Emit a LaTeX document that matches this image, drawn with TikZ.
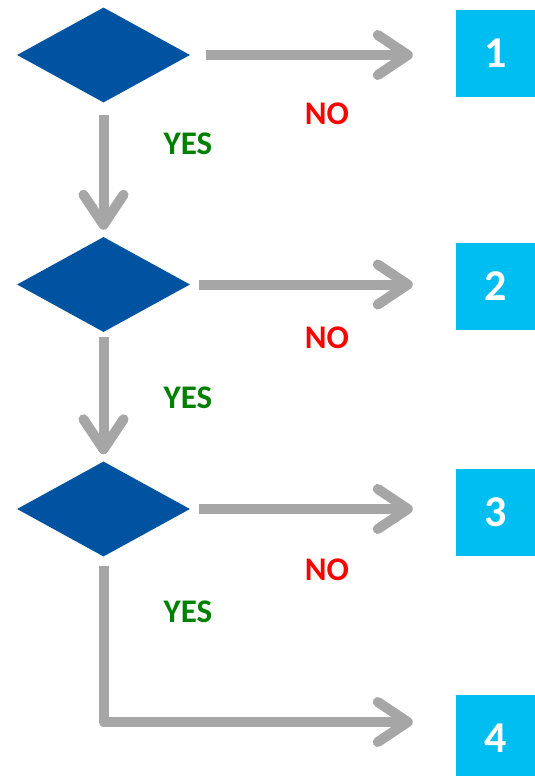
\documentclass[tikz,border=0pt]{standalone}
\usepackage{fontspec}
\setmainfont{Carlito}
\usetikzlibrary{shapes.geometric}
\usetikzlibrary{arrows.meta}
\definecolor{decblue}{RGB}{0,83,160}
\definecolor{outcyan}{RGB}{0,191,240}
\definecolor{flowgray}{RGB}{166,166,166}
\definecolor{yesgreen}{RGB}{0,128,0}
\tikzset{
  decision/.style={diamond, fill=decblue, inner sep=0pt, minimum width=173pt, minimum height=95pt},
  outcome/.style={rectangle, fill=outcyan, inner sep=0pt, minimum width=79pt, minimum height=87pt,
    text=white, font=\bfseries\fontsize{44}{50}\selectfont},
  flow/.style={flowgray, line width=10pt, line join=round, -{Straight Barb[length=30pt, width=40pt, round]}},
  yeslbl/.style={text=yesgreen, font=\bfseries\fontsize{33}{38}\selectfont},
  nolbl/.style={text=red, font=\bfseries\fontsize{33}{38}\selectfont}
}
\begin{document}
\begin{tikzpicture}[x=1pt, y=-1pt]
\useasboundingbox (0,0) rectangle (535,776);
\clip (0,0) rectangle (535,776);

\node [decision] (d1) at (103.5,55) {};
\node [decision] (d2) at (103.5,284.5) {};
\node [decision] (d3) at (103.5,509) {};

\node [outcome] (b1) at (495.5,53.5) {1};
\node [outcome] (b2) at (495.5,286.5) {2};
\node [outcome] (b3) at (495.5,512.5) {3};
\node [outcome] (b4) at (495.5,738.5) {4};

\coordinate (c4) at (103.5,722);

\draw [flow] ([xshift=16pt]d1.east) -- ([xshift=-43pt]d1.east -| b1.west);
\draw [flow] ([xshift=9pt]d2.east) -- ([xshift=-43pt]d2.east -| b2.west);
\draw [flow] ([xshift=9pt]d3.east) -- ([xshift=-43pt]d3.east -| b3.west);

\draw [flow] ([yshift=-12pt]d1.south) -- ([yshift=7pt]d2.north);
\draw [flow] ([yshift=-5pt]d2.south) -- ([yshift=7pt]d3.north);
\draw [flow] ([yshift=-9pt]d3.south) -- (c4) -- ([xshift=-43pt]c4 -| b4.west);

\node [nolbl] (n1) at (327,114) {NO};
\node [yeslbl] (y1) at (188,143.5) {YES};
\node [nolbl] (n2) at (327,337.5) {NO};
\node [yeslbl] (y2) at (188,397.5) {YES};
\node [nolbl] (n3) at (327,569.5) {NO};
\node [yeslbl] (y3) at (188,611.5) {YES};
\end{tikzpicture}
\end{document}
